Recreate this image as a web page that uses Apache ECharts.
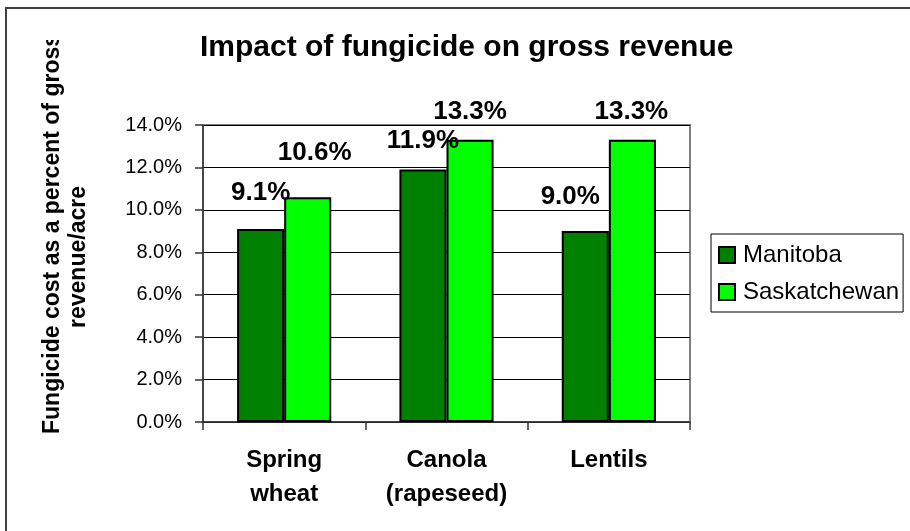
<!DOCTYPE html>
<html>
<head>
<meta charset="utf-8">
<script src="https://cdn.jsdelivr.net/npm/echarts@6/dist/echarts.min.js"></script>
<style>
  html, body { margin: 0; padding: 0; background: #fff; }
  #chart { width: 910px; height: 531px; }
</style>
</head>
<body>
<div id="chart"></div>
<script>
(function() {
  const crops = ['Spring\nwheat', 'Canola\n(rapeseed)', 'Lentils'];
  const manitoba = [9.1, 11.9, 9.0];
  const saskatchewan = [10.6, 13.3, 13.3];
  const yTicks = [0, 2, 4, 6, 8, 10, 12, 14];

  // label nudges, the source chart has them a bit off-centre
  const manitobaShift = [[0, -8], [0, -1], [-15, -6]];
  const saskShift = [[7, -16], [0, 0], [-1, 0]];

  const font = '"Liberation Sans", Arial, sans-serif';

  const withShift = (vals, shift) => vals.map((v, i) => ({
    value: v,
    label: { offset: shift[i] }
  }));

  const barLabel = {
    show: true,
    position: 'top',
    distance: 15,
    color: '#000',
    fontFamily: font,
    fontWeight: 'bold',
    fontSize: 26,
    formatter: p => p.value.toFixed(1) + '%'
  };

  const option = {
    animation: false,
    backgroundColor: '#fff',
    textStyle: { fontFamily: font },
    title: {
      text: 'Impact of fungicide on gross revenue',
      left: 200,
      top: 33,
      padding: 0,
      textStyle: { fontFamily: font, fontWeight: 'bold', fontSize: 30, color: '#000' }
    },
    legend: {
      orient: 'vertical',
      left: 711,
      top: 234,
      padding: [9, 4, 8, 7],
      itemGap: 13,
      itemWidth: 16,
      itemHeight: 16,
      borderColor: '#000',
      borderWidth: 1,
      icon: 'rect',
      textStyle: { fontFamily: font, fontSize: 24, color: '#000', padding: [0, 0, 0, 3] },
      data: ['Manitoba', 'Saskatchewan']
    },
    grid: {
      left: 203,
      right: 220,
      top: 125,
      bottom: 109,
      show: true,
      borderColor: '#808080',
      borderWidth: 2,
      backgroundColor: '#fff'
    },
    xAxis: {
      type: 'category',
      data: crops,
      axisLine: { lineStyle: { color: '#333', width: 1.5 } },
      axisTick: { show: true, length: 8, lineStyle: { color: '#333', width: 1.5 } },
      axisLabel: {
        margin: 21,
        color: '#000',
        fontFamily: font,
        fontWeight: 'bold',
        fontSize: 24,
        lineHeight: 34
      }
    },
    yAxis: {
      type: 'value',
      min: yTicks[0],
      max: yTicks[yTicks.length - 1],
      interval: 2,
      axisLine: { show: true, lineStyle: { color: '#333', width: 1.5 } },
      axisTick: { show: true, length: 8, lineStyle: { color: '#333', width: 1.5 } },
      splitLine: { lineStyle: { color: '#000', width: 1 } },
      axisLabel: {
        margin: 21,
        color: '#000',
        fontFamily: font,
        fontSize: 20,
        formatter: v => v.toFixed(1) + '%'
      }
    },
    series: [{
      name: 'Manitoba',
      type: 'bar',
      data: withShift(manitoba, manitobaShift),
      barGap: 0,
      barCategoryGap: '42%',
      itemStyle: { color: '#008000', borderColor: '#000', borderWidth: 2 },
      label: barLabel
    }, {
      name: 'Saskatchewan',
      type: 'bar',
      data: withShift(saskatchewan, saskShift),
      barGap: 0,
      barCategoryGap: '42%',
      itemStyle: { color: '#00ff00', borderColor: '#000', borderWidth: 2 },
      label: barLabel
    }],
    graphic: [{
      type: 'text',
      x: 53,
      y: 234,
      rotation: Math.PI / 2,
      z: 10,
      style: {
        text: 'Fungicide cost as a percent of gross',
        font: 'bold 23px ' + font,
        fill: '#000',
        textAlign: 'center',
        textVerticalAlign: 'middle'
      }
    }, {
      type: 'text',
      x: 79,
      y: 257,
      rotation: Math.PI / 2,
      z: 10,
      style: {
        text: 'revenue/acre',
        font: 'bold 23px ' + font,
        fill: '#000',
        textAlign: 'center',
        textVerticalAlign: 'middle'
      }
    }, {
      // chart area clips the long axis title at the top
      type: 'rect',
      z: 11,
      shape: { x: 30, y: 10, width: 40, height: 30 },
      style: { fill: '#fff' }
    }, {
      type: 'rect',
      z: 12,
      shape: { x: 6, y: 8, width: 930, height: 560 },
      style: { fill: 'none', stroke: '#404040', lineWidth: 2 }
    }]
  };

  const chart = echarts.init(document.getElementById('chart'));
  chart.setOption(option);
}());
</script>
</body>
</html>
